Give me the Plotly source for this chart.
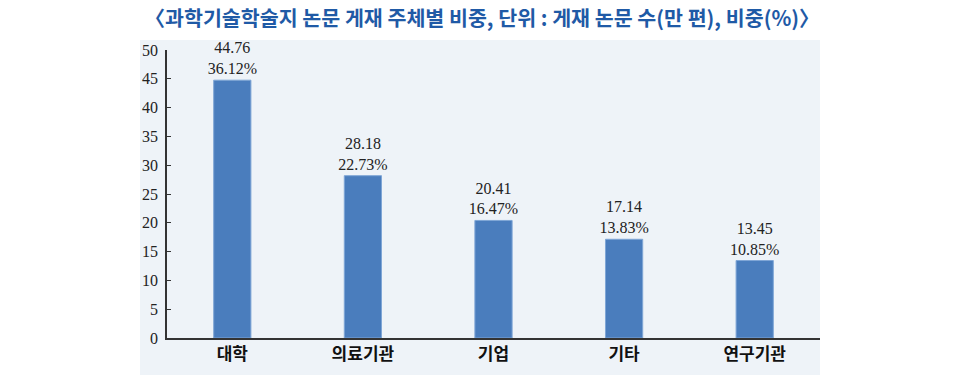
import plotly.graph_objects as go

categories = ["대학", "의료기관", "기업", "기타", "연구기관"]
papers = [44.76, 28.18, 20.41, 17.14, 13.45]
shares = [36.12, 22.73, 16.47, 13.83, 10.85]
y_ticks = [0, 5, 10, 15, 20, 25, 30, 35, 40, 45, 50]

labels = [f"{p:.2f}<br>{s:.2f}%" for p, s in zip(papers, shares)]

fig = go.Figure(go.Bar(
    x=categories, y=papers, text=labels, textposition="outside",
    constraintext="none",
    textfont=dict(family="Liberation Serif", size=16, color="#222222"),
    marker=dict(color="#4a7dbd", line=dict(color="#7fa6d6", width=1)),
    width=0.285, cliponaxis=False,
))

fig.add_shape(type="rect", xref="paper", yref="paper",
              x0=-0.0413, x1=1.0, y0=-0.13, y1=1.035,
              fillcolor="#eef3f8", line=dict(width=0), layer="below")

fig.update_layout(
    width=966, height=375,
    margin=dict(l=167, r=146, t=50, b=37, autoexpand=False),
    paper_bgcolor="white", plot_bgcolor="rgba(0,0,0,0)",
    showlegend=False,
    title=dict(text="〈과학기술학술지 논문 게재 주체별 비중, 단위 : 게재 논문 수(만 편), 비중(%)〉",
               x=0.499, xanchor="center", y=0.95, yanchor="middle", xref="container", yref="container",
               automargin=False,
               font=dict(family="Noto Sans CJK KR", size=20.6, color="#1f5aa6", weight="bold")),
    xaxis=dict(range=[-0.5, 4.5], showline=True, linecolor="#333333", linewidth=1.5,
               ticks="", showgrid=False, automargin=False,
               tickfont=dict(family="Noto Sans CJK KR", size=17, color="#111111", weight="bold")),
    yaxis=dict(range=[0, 50], tickvals=y_ticks, showline=True, linecolor="#333333", linewidth=1.5,
               ticks="inside", ticklen=4, tickwidth=1, tickcolor="#333333", showgrid=False,
               zeroline=False, ticklabelstandoff=4, automargin=False,
               tickfont=dict(family="Liberation Serif", size=16, color="#222222")),
)

fig.write_html("out.html", config={"displayModeBar": False},
               post_script="document.body.style.margin='0';document.body.style.overflow='hidden';")
